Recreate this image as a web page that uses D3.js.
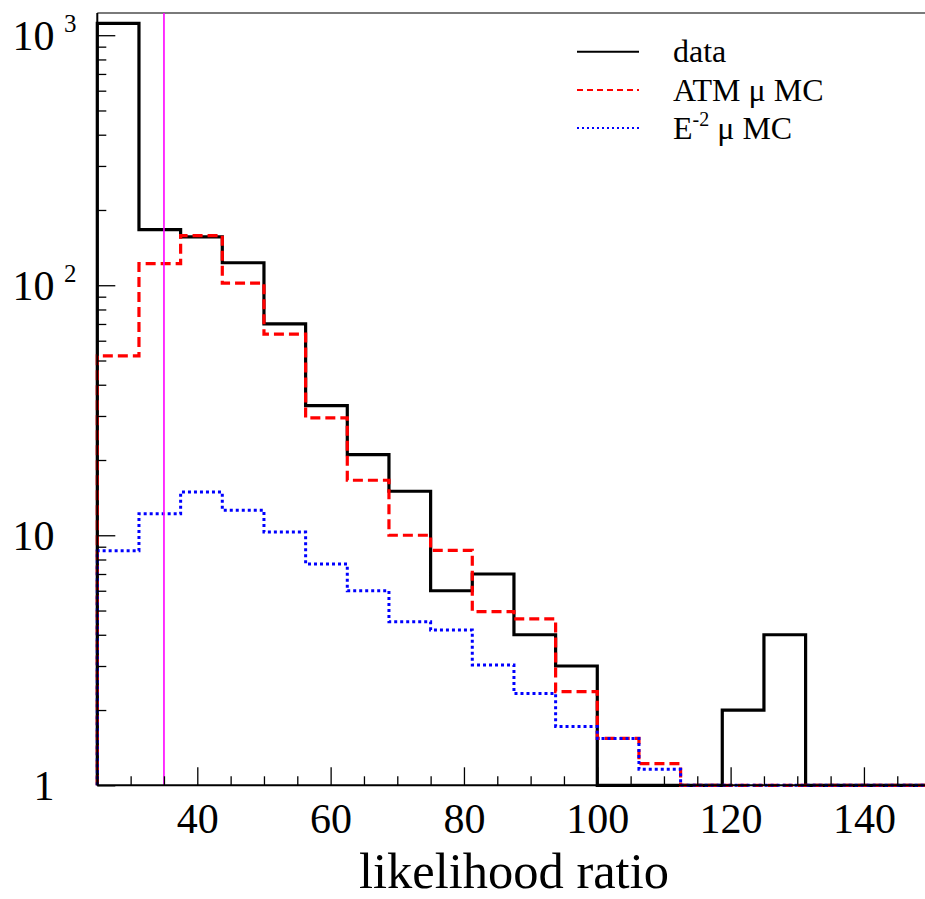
<!DOCTYPE html>
<html><head><meta charset="utf-8">
<script src="https://cdn.jsdelivr.net/npm/d3@7"></script>
<style>
body{margin:0;background:#fff}
svg{display:block}
svg text{font-family:"Liberation Serif","Times New Roman",serif !important;fill:#000}
</style>
</head><body><svg id="c" width="925" height="899"></svg>
<script>
// ---- data ----
const binEdges = [25,31.25,37.5,43.75,50,56.25,62.5,68.75,75,81.25,87.5,93.75,100,106.25,112.5,118.75,125,131.25,137.5,143.75,150];
const dataCounts = [1115,167,156,123,70,33,21,15,6,7,4,3,0,0,0,2,4,0,0,0];
const atmMC = [52.2,122,158,102,63.7,29.5,16.6,10.0,8.7,4.95,4.63,2.37,1.54,1.22,0,0,0,0,0,0];
const e2MC = [8.68,12.2,14.9,12.6,10.3,7.68,6.0,4.51,4.18,3.03,2.33,1.72,1.54,1.16,0,0,0,0,0,0];
const xMajorTicks = [40,60,80,100,120,140];
const xMinorTicks = [25,30,35,45,50,55,65,70,75,85,90,95,105,110,115,125,130,135,145,150];
const yMajorTicks = [1,10,100,1000];
const yTickBase = ["1","10","10","10"];
const yTickExp = ["","","2","3"];
const yMinorTicks = [2,3,4,5,6,7,8,9,20,30,40,50,60,70,80,90,200,300,400,500,600,700,800,900];
const cutValue = 35;
const xDomain = [25,150];
const yDomain = [1,1227];
const xTitle = "likelihood ratio";

// ---- layout ----
const SERIF = "'Liberation Serif','Times New Roman',serif";
const svg = d3.select("#c");
const L = 97.3, R = 930.6, T = 13, B = 785.3;
const x = d3.scaleLinear().domain(xDomain).range([L,R]);
const y = d3.scaleLog().domain(yDomain).range([B,T]);

// frame top line (gray)
svg.append("line").attr("x1",L).attr("x2",925).attr("y1",T).attr("y2",T)
  .attr("stroke","#7a7a7a").attr("stroke-width",2);

// histograms
function stepPath(vals){
  const pts = [[x(binEdges[0]), B]];
  vals.forEach((v,i)=>{
    const yy = v>0 ? y(v) : B;
    pts.push([x(binEdges[i]), yy]);
    pts.push([x(binEdges[i+1]), yy]);
  });
  pts.push([x(binEdges[binEdges.length-1]), B]);
  return d3.line()(pts);
}
const g = svg.append("g");
g.append("path").attr("d",stepPath(dataCounts)).attr("fill","none")
  .attr("stroke","#000").attr("stroke-width",3.2);
g.append("path").attr("d",stepPath(atmMC)).attr("fill","none")
  .attr("stroke","#ff0000").attr("stroke-width",3.2).attr("stroke-dasharray","10,5");
g.append("path").attr("d",stepPath(e2MC)).attr("fill","none")
  .attr("stroke","#0000ff").attr("stroke-width",3).attr("stroke-dasharray","3,3");

// cut line
svg.append("line").attr("x1",x(cutValue)).attr("x2",x(cutValue)).attr("y1",T).attr("y2",B)
  .attr("stroke","#ff00ff").attr("stroke-width",1.6);

// x axis
const xMinor = svg.append("g").attr("transform",`translate(0,${B})`)
  .call(d3.axisBottom(x).tickValues(xMinorTicks).tickSizeInner(-9).tickSizeOuter(0).tickFormat(""));
const xMajor = svg.append("g").attr("transform",`translate(0,${B})`)
  .call(d3.axisBottom(x).tickValues(xMajorTicks).tickSizeInner(-18).tickSizeOuter(0).tickPadding(18));
[xMinor,xMajor].forEach(a=>{
  a.select(".domain").remove();
  a.attr("font-family",SERIF);
  a.selectAll(".tick line").attr("stroke","#000").attr("stroke-width",1.3);
});
xMajor.selectAll(".tick text").attr("font-size",42).attr("fill","#000").style("font-family",SERIF);
svg.append("line").attr("x1",L).attr("x2",925).attr("y1",B).attr("y2",B)
  .attr("stroke","#000").attr("stroke-width",2);

// y axis
const yMinor = svg.append("g").attr("transform",`translate(${L},0)`)
  .call(d3.axisLeft(y).tickValues(yMinorTicks).tickSizeInner(-9).tickSizeOuter(0).tickFormat(""));
const yMajor = svg.append("g").attr("transform",`translate(${L},0)`)
  .call(d3.axisLeft(y).tickValues(yMajorTicks).tickSizeInner(-18).tickSizeOuter(0).tickFormat(""));
[yMinor,yMajor].forEach(a=>{
  a.select(".domain").remove();
  a.selectAll(".tick line").attr("stroke","#000").attr("stroke-width",1.3);
});
svg.append("line").attr("x1",L).attr("x2",L).attr("y1",T).attr("y2",B)
  .attr("stroke","#000").attr("stroke-width",2);
yMajorTicks.forEach((v,i)=>{
  svg.append("text").attr("x",54.5).attr("y",y(v)+14.7).attr("text-anchor","end")
    .attr("font-size",42).style("font-family",SERIF).text(yTickBase[i]);
  if(yTickExp[i]){
    svg.append("text").attr("x",64).attr("y",y(v)-3.5).attr("font-size",25)
      .style("font-family",SERIF).text(yTickExp[i]);
  }
});

// x title
svg.append("text").attr("x",(L+R)/2).attr("y",888).attr("text-anchor","middle")
  .attr("font-size",50).style("font-family",SERIF)
  .attr("textLength",310).attr("lengthAdjust","spacingAndGlyphs").text(xTitle);

// legend
const legY = [51.7, 90, 128];
const lg = svg.append("g");
lg.append("line").attr("x1",577).attr("x2",639).attr("y1",legY[0]).attr("y2",legY[0])
  .attr("stroke","#000").attr("stroke-width",2);
lg.append("line").attr("x1",577).attr("x2",639).attr("y1",legY[1]).attr("y2",legY[1])
  .attr("stroke","#ff0000").attr("stroke-width",2).attr("stroke-dasharray","6,4");
lg.append("line").attr("x1",577).attr("x2",639).attr("y1",legY[2]).attr("y2",legY[2])
  .attr("stroke","#0000ff").attr("stroke-width",2).attr("stroke-dasharray","2,3");
lg.append("text").attr("x",673).attr("y",legY[0]+10).attr("font-size",32).style("font-family",SERIF).text("data");
const t2 = lg.append("text").attr("x",673).attr("y",legY[1]+11).attr("font-size",32).style("font-family",SERIF);
t2.append("tspan").text("ATM ");
t2.append("tspan").text("μ");
t2.append("tspan").text(" MC");
const t3 = lg.append("text").attr("x",673).attr("y",legY[2]+11).attr("font-size",32).style("font-family",SERIF);
t3.append("tspan").text("E");
t3.append("tspan").attr("dy",-13).attr("font-size",20).text("-2");
t3.append("tspan").attr("dy",13).attr("font-size",32).text(" μ MC");
</script>
</body></html>
